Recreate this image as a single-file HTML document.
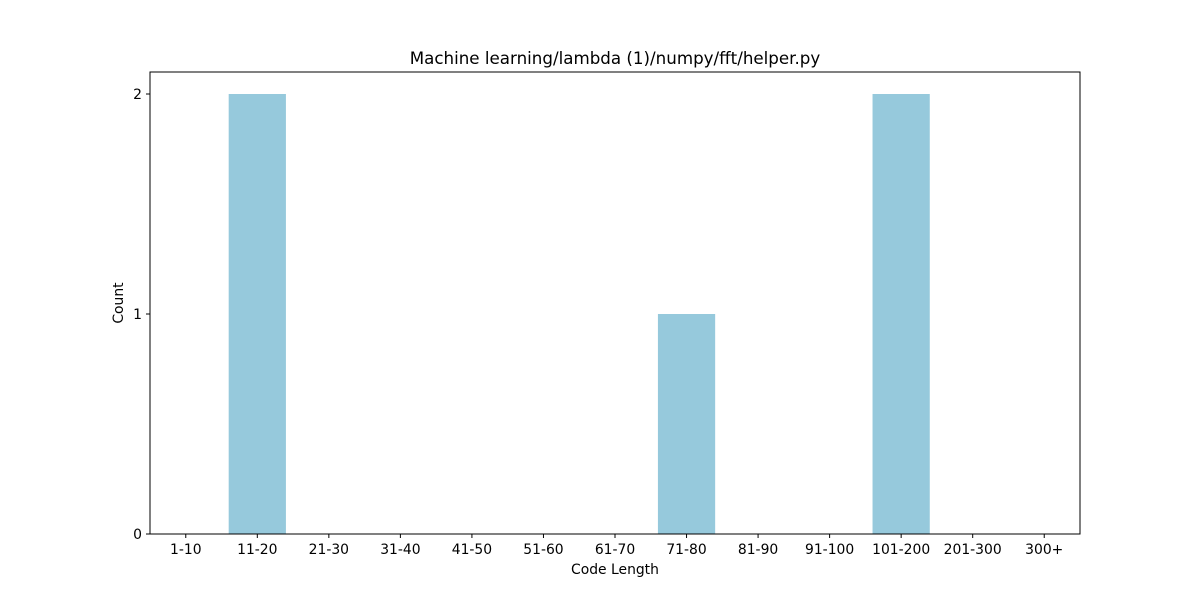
<!DOCTYPE html>
<html><head><meta charset="utf-8"><style>
body{margin:0;background:#fff;}
svg{display:block;font-family:"DejaVu Sans","Liberation Sans",sans-serif;}
</style></head><body>
<svg id="chart" width="1200" height="600">
<rect width="1200" height="600" fill="#fff"/>
<text x="615" y="64" font-size="16.7" text-anchor="middle">Machine learning/lambda (1)/numpy/fft/helper.py</text>
<g id="bars"></g>
<g id="xticks"></g>
<g id="yticks"></g>
<rect x="150" y="72" width="930" height="462" fill="none" stroke="#000" stroke-width="1"/>
<text x="615" y="574" font-size="13.9" text-anchor="middle">Code Length</text>
<text x="123" y="303" font-size="13.9" text-anchor="middle" transform="rotate(-90 123 303)">Count</text>
</svg>
<script>
const categories = ["1-10","11-20","21-30","31-40","41-50","51-60","61-70","71-80","81-90","91-100","101-200","201-300","300+"];
const counts = [0,2,0,0,0,0,0,1,0,0,2,0,0];
const yTicks = [0,1,2];
const NS="http://www.w3.org/2000/svg";
const L=150,R=1080,T=72,B=534,yMax=2.1;
const step=(R-L)/categories.length;
const xs=i=>L+step*(i+0.5);
const ys=v=>B-(B-T)*v/yMax;
const bars=document.getElementById('bars'),xt=document.getElementById('xticks'),yt=document.getElementById('yticks');
categories.forEach((c,i)=>{
  const bw=step*0.8;
  const r=document.createElementNS(NS,'rect');
  r.setAttribute('x',xs(i)-bw/2);r.setAttribute('width',bw);
  r.setAttribute('y',ys(counts[i]));r.setAttribute('height',B-ys(counts[i]));
  r.setAttribute('fill','#96c9dc');
  
  
  bars.appendChild(r);
  const tk=document.createElementNS(NS,'line');
  tk.setAttribute('x1',xs(i));tk.setAttribute('x2',xs(i));tk.setAttribute('y1',B);tk.setAttribute('y2',B+4);tk.setAttribute('stroke','#000');
  
  
  xt.appendChild(tk);
  const t=document.createElementNS(NS,'text');
  t.setAttribute('x',xs(i));t.setAttribute('y',B+20);t.setAttribute('font-size','13.9');t.setAttribute('text-anchor','middle');
  t.textContent=c;
  
  
  xt.appendChild(t);
});
yTicks.forEach(v=>{
  const tk=document.createElementNS(NS,'line');
  tk.setAttribute('x1',L-4);tk.setAttribute('x2',L);tk.setAttribute('y1',ys(v));tk.setAttribute('y2',ys(v));tk.setAttribute('stroke','#000');
  
  
  yt.appendChild(tk);
  const t=document.createElementNS(NS,'text');
  t.setAttribute('x',L-8);t.setAttribute('y',ys(v)+5);t.setAttribute('font-size','13.9');t.setAttribute('text-anchor','end');
  t.textContent=v;
  
  
  yt.appendChild(t);
});
</script>
</body></html>
